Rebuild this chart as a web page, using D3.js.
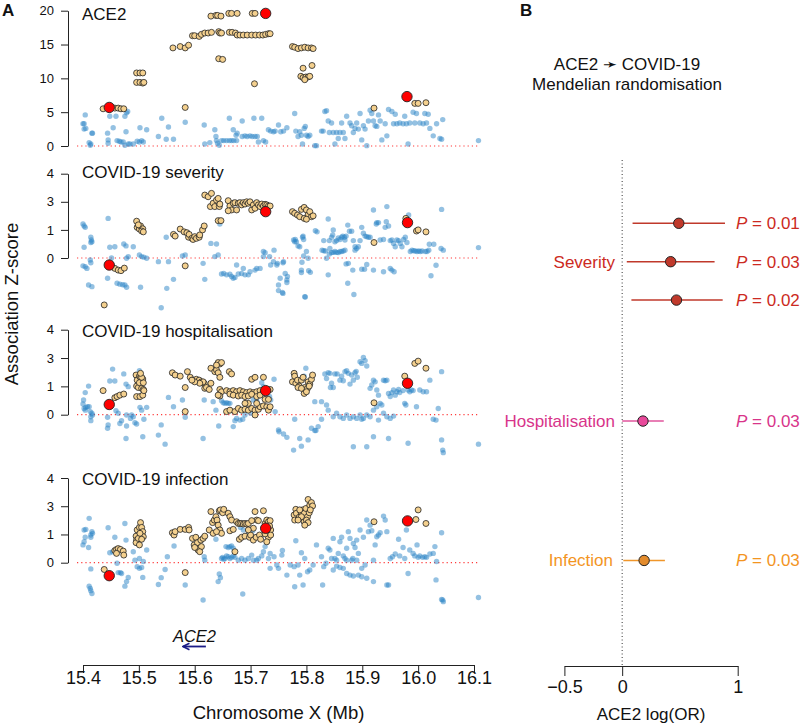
<!DOCTYPE html>
<html><head><meta charset="utf-8">
<script src="https://cdn.jsdelivr.net/npm/d3@7"></script>
<style>
body{margin:0;background:#fff}
svg{display:block}
text{font-family:"Liberation Sans",Arial,Helvetica,sans-serif;fill:#111}
</style>
</head><body>
<svg id="c" width="800" height="726"></svg>
<script>
// ---------------- DATA ----------------
// Panel A: [position (Mb), Z value]; for COVID panels Z is given in axis-step units (ticks labelled 0,1,3,4)
const ace2Ticks = [0,5,10,15,20];
const ace2TickLabels = ["0","5","10","15","20"];
const covidTicks = [0,1,2,3];
const covidTickLabels = ["0","1","3","4"];
const xTicks = [15.4,15.5,15.6,15.7,15.8,15.9,16.0,16.1];

const ace2Blue = [[15.400,3.3],[15.402,3.3],[15.404,4.6],[15.402,2.5],[15.405,2.6],[15.411,0.5],[15.414,0.3],[15.416,1.9],[15.417,1.9],[15.413,0.1],
[15.444,1.9],[15.445,0.9],[15.445,0.4],[15.448,4.4],[15.454,2.7],[15.459,4.4],[15.461,0.8],[15.465,0.7],[15.468,0.6],[15.472,0.6],[15.475,4.4],[15.477,2.1],[15.478,4.9],[15.480,5.1],[15.475,0.1],[15.481,0.3],[15.484,0.3],[15.490,0.3],
[15.497,0.7],[15.501,0.6],[15.502,2.7],[15.505,0.8],[15.508,0.6],[15.514,2.4],[15.535,1.4],[15.541,4.1],[15.549,1.0],[15.553,2.8],[15.562,1.0],[15.583,3.5],[15.617,3.1],[15.618,0.3],[15.627,0.5],[15.636,2.4],[15.638,1.4],[15.639,0.8],[15.641,0.4],[15.644,0.1],
[15.648,0.8],[15.652,0.8],[15.657,0.8],[15.662,0.8],[15.666,0.8],[15.670,0.8],[15.675,0.8],
[15.662,4.1],[15.669,2.4],[15.674,1.6],[15.676,1.9],[15.685,3.7],[15.685,1.4],[15.690,1.5],[15.694,1.4],[15.699,1.5],[15.703,1.4],[15.706,4.1],[15.708,1.4],[15.712,1.4],[15.714,0.6],[15.720,4.1],[15.723,0.8],[15.727,0.6],[15.732,2.4],[15.736,2.2],[15.741,2.1],[15.744,2.2],[15.750,3.1],[15.754,2.1],[15.759,2.2],[15.765,2.7],[15.779,4.8],[15.781,2.2],[15.785,1.4],[15.788,2.1],[15.791,1.6],[15.793,0.3],[15.796,2.6],[15.798,2.9],[15.800,1.6],[15.803,1.4],[15.806,1.6],[15.815,0.05],[15.818,0.05],
[15.827,2.2],[15.830,2.2],[15.833,5.1],[15.836,5.2],[15.839,3.7],[15.841,2.0],[15.845,3.4],[15.848,2.0],[15.851,0.3],[15.854,2.0],[15.857,1.1],[15.860,2.0],[15.863,3.4],[15.866,2.0],[15.869,1.1],[15.872,4.4],[15.878,3.4],[15.881,3.0],[15.884,2.0],[15.887,2.6],[15.890,3.4],[15.893,2.5],[15.896,4.8],[15.899,0.9],[15.902,3.0],[15.905,2.5],[15.908,0.05],[15.911,3.7],[15.914,5.3],[15.917,4.8],[15.920,3.7],[15.923,3.0],[15.926,2.9],[15.929,4.6],[15.932,3.7],[15.935,0.9],[15.941,3.3],[15.944,1.5],[15.947,5.4],[15.953,5.1],[15.956,3.3],[15.959,4.7],[15.962,3.3],[15.967,3.4],[15.973,3.3],[15.976,4.4],[15.979,3.3],[15.982,0.3],[15.985,3.4],[15.991,5.0],[15.994,3.4],[15.997,4.8],[16.003,3.4],[16.009,3.3],[16.012,4.8],[16.015,3.4],[16.018,4.7],[16.021,2.6],[16.027,1.5],[16.033,3.3],[16.039,1.1],[16.042,1.0],[16.044,3.9],[16.108,0.8]];

const ace2Tan = [[15.436,5.5],[15.457,5.6],[15.463,5.6],[15.468,5.5],[15.473,5.5],
[15.496,10.8],[15.502,10.8],[15.507,10.8],[15.496,9.4],[15.502,9.4],[15.507,9.3],[15.509,9.4],
[15.561,14.5],[15.574,14.7],[15.583,14.5],[15.589,14.9],[15.583,5.7],
[15.596,16.3],[15.600,16.3],[15.608,16.2],[15.612,16.5],[15.618,16.7],[15.624,16.7],[15.630,16.8],
[15.629,19.2],[15.638,19.3],[15.641,19.3],[15.647,19.2],
[15.643,16.9],[15.645,16.7],[15.648,16.7],[15.643,12.9],[15.650,12.8],
[15.661,19.6],[15.666,19.6],[15.676,19.6],[15.662,16.8],[15.667,16.8],[15.673,16.7],
[15.676,16.4],[15.681,16.4],[15.687,16.4],[15.694,16.4],[15.702,16.4],[15.709,16.4],[15.716,16.4],[15.722,16.4],
[15.703,19.6],[15.708,19.6],[15.707,9.2],
[15.727,16.5],[15.732,16.6],[15.735,16.6],
[15.775,14.7],[15.779,14.6],[15.785,14.4],[15.791,14.5],[15.797,14.6],[15.803,14.5],[15.809,14.5],[15.812,14.4],
[15.794,11.5],[15.810,11.9],[15.790,10.3],[15.794,10.1],[15.799,10.2],[15.803,10.2],[15.806,10.3],[15.797,9.8],
[15.921,5.6],[15.994,6.3],[16.000,6.3],[16.014,6.4]];
const ace2Lead = [[15.447,5.7],[15.727,19.6],[15.980,7.3]];

const sevBlue = [[15.400,1.21],[15.402,1.14],[15.404,1.09],[15.414,0.74],[15.415,0.64],[15.416,0.58],[15.414,0.55],[15.402,0.38],[15.400,-0.28],[15.404,-0.31],[15.407,-0.37],[15.413,-0.07],[15.414,-0.17],[15.410,-0.96],[15.416,-1.02],
[15.445,1.41],[15.448,0.38],[15.444,-0.72],[15.451,0.0],[15.457,0.40],[15.461,-0.90],[15.466,-0.93],[15.471,-0.95],[15.475,-0.96],[15.478,-1.04],[15.473,0.50],[15.477,0.43],[15.481,0.05],[15.478,-0.01],[15.490,0.40],[15.501,0.11],[15.505,0.05],[15.509,0.03],[15.514,-0.01],[15.503,-1.04],[15.535,-0.13],[15.540,-1.77],[15.549,0.74],[15.550,-1.08],[15.553,-0.13],[15.562,-0.76],[15.578,0.07],[15.583,0.11],[15.615,-0.19],[15.618,-0.76],[15.629,0.52],[15.639,0.50],[15.636,0.05],[15.642,0.11],[15.645,1.21],
[15.648,-0.57],[15.652,-0.55],[15.657,-0.60],[15.663,-0.58],[15.666,-0.66],[15.669,-0.72],[15.672,-0.69],[15.678,-0.57],[15.684,-0.55],[15.690,-0.60],[15.696,-0.60],
[15.675,-0.25],[15.687,-0.37],[15.699,-0.49],[15.708,-0.43],[15.711,-0.37],[15.717,-0.37],[15.723,0.23],[15.726,0.19],[15.723,0.05],[15.734,0.05],[15.736,-0.25],[15.742,0.28],[15.747,-0.25],[15.750,-0.96],[15.750,-1.16],[15.757,-1.23],[15.753,-0.72],[15.759,-0.13],[15.762,-0.55],[15.765,-0.78],[15.777,0.64],[15.779,0.58],[15.785,0.43],[15.788,0.40],[15.791,-0.43],[15.793,0.74],[15.797,-1.38],[15.803,-0.01],[15.800,0.23],
[15.748,-0.19],[15.758,-0.17],[15.766,-0.66],[15.765,-0.87],[15.758,-1.26],[15.798,-1.39],[15.792,-0.15],[15.791,-0.52],[15.795,0.07],[15.804,-0.45],[15.807,-0.51],[15.780,0.66],[15.782,0.58],[15.794,0.78],[15.795,0.66],[15.816,0.97],[15.819,0.93],[15.831,0.62],[15.831,0.26],[15.836,-0.01],[15.839,-0.60],[15.839,1.39],[15.841,0.62],[15.842,0.34],[15.845,0.74],[15.847,0.82],[15.848,1.0],[15.851,0.58],[15.854,0.62],[15.857,0.71],[15.860,0.66],[15.863,0.74],[15.865,0.78],[15.868,0.74],[15.869,0.64],[15.871,0.78],[15.874,1.17],[15.877,0.95],[15.881,0.95],[15.884,0.62],[15.887,0.40],[15.890,0.34],[15.887,0.28],[15.893,0.40],[15.896,0.62],[15.899,1.09],[15.902,0.88],[15.905,0.78],[15.908,0.76],[15.911,0.74],[15.914,0.74],[15.920,1.71],[15.925,1.21],[15.926,1.26],[15.929,1.26],[15.932,0.64],[15.938,0.66],[15.941,1.09],[15.943,1.29],[15.944,1.83],[15.947,1.14],[15.950,0.62],[15.953,0.64],[15.956,0.52],[15.959,0.40],[15.962,0.64],[15.965,0.62],[15.968,0.52],[15.971,0.40],[15.974,0.66],[15.977,0.74],[15.980,0.55],[15.983,1.53],[15.986,0.23],[15.989,0.28],[15.992,0.26],[15.995,0.25],[15.998,0.23],[16.001,0.25],[16.004,0.23],[16.007,0.25],[16.013,0.23],[16.016,0.23],[16.019,0.28],[16.020,0.49],[16.028,0.49],[16.032,-0.26],[16.023,-0.63],[16.042,1.73],[16.041,0.34],[16.045,0.28],[16.108,0.37],
[15.841,0.14],[15.845,0.19],[15.848,0.20],[15.851,0.23],[15.854,0.20],[15.857,0.19],[15.860,0.23],[15.863,0.23],[15.866,0.25],[15.869,0.28],[15.871,-0.21],[15.875,-0.19],[15.883,-0.43],[15.874,-0.90],[15.885,-1.30],[15.899,-0.40],[15.904,-0.40],[15.908,-0.23],[15.920,-0.43],[15.938,-0.49],[15.950,-0.37],[15.953,-0.43],[15.957,-0.49],[15.828,0.28],[15.834,0.25],[15.741,-0.13]];

const sevTan = [[15.438,-1.67],
[15.457,-0.37],[15.463,-0.43],[15.468,-0.45],[15.474,-0.36],
[15.496,1.31],[15.497,1.09],[15.501,1.03],[15.503,1.14],[15.507,1.04],[15.505,0.96],[15.508,0.93],[15.499,1.18],
[15.562,0.84],[15.565,0.78],[15.574,1.03],[15.581,0.93],[15.586,0.90],[15.589,0.74],[15.590,0.84],[15.595,0.70],[15.597,0.66],[15.600,0.76],[15.603,0.70],[15.608,0.74],[15.609,0.82],[15.614,1.0],[15.617,1.14],
[15.583,-0.28],
[15.618,2.24],[15.624,2.18],[15.630,2.30],[15.628,1.83],[15.633,1.95],[15.636,1.83],[15.639,2.06],[15.642,2.12],[15.644,1.83],[15.645,1.92],[15.642,1.33],[15.647,1.33],
[15.660,2.04],[15.663,1.85],[15.666,1.71],[15.669,1.95],[15.672,1.97],[15.675,1.71],[15.678,1.95],[15.681,1.97],[15.684,1.89],[15.687,1.97],[15.690,1.92],[15.693,2.0],[15.696,1.95],[15.699,2.0],[15.702,1.71],[15.705,1.89],[15.708,1.77],[15.711,1.97],[15.714,1.89],[15.717,1.83],[15.720,1.92],[15.723,1.85],[15.726,1.91],[15.729,1.89],[15.732,1.85],[15.735,1.85],[15.660,1.68],
[15.775,1.65],[15.779,1.59],[15.784,1.53],[15.788,1.47],[15.791,1.73],[15.796,1.80],[15.800,1.71],[15.803,1.53],[15.806,1.65],[15.809,1.47],[15.812,1.50],[15.796,1.41],[15.800,1.38],
[15.921,0.55],[15.978,1.41],[15.997,0.96],[16.000,1.0],[16.014,0.93]];
const sevLead = [[15.447,-0.25],[15.727,1.65],[15.981,1.26]];

const hospBlue = [[15.400,0.38],[15.402,0.22],[15.404,0.16],[15.405,0.26],[15.408,0.28],[15.413,0.11],[15.414,-0.07],[15.411,0.28],[15.416,0.05],[15.417,-0.01],[15.404,0.78],[15.410,1.01],[15.401,0.52],[15.414,-0.21],
[15.444,-0.48],[15.445,-0.36],[15.444,-0.09],[15.453,1.61],[15.448,1.19],[15.457,1.19],[15.459,0.14],[15.463,0.05],[15.466,-0.31],[15.469,-0.21],[15.473,1.44],[15.477,1.08],[15.478,-0.01],[15.481,0.99],[15.478,-0.40],[15.477,-0.84],[15.485,-0.13],[15.487,-0.01],[15.490,-0.07],[15.493,-0.28],[15.496,-0.33],[15.501,1.55],[15.502,0.26],[15.505,0.16],[15.507,-0.78],[15.509,-0.16],[15.514,0.26],
[15.535,-0.72],[15.540,-0.36],[15.547,-1.04],[15.553,0.61],[15.562,0.28],[15.578,0.52],[15.583,-0.09],[15.617,0.52],[15.615,-0.84],[15.633,0.46],[15.638,0.16],[15.643,-0.40],[15.648,0.49],[15.651,0.42],[15.654,0.40],[15.657,0.42],[15.660,0.40],[15.663,0.40],[15.669,-0.42],[15.672,-0.21],[15.675,-0.13],[15.681,-0.19],[15.686,-0.16],[15.690,-0.01],[15.694,0.40],[15.700,0.05],[15.705,0.52],[15.711,0.49],[15.720,1.13],[15.723,0.99],[15.734,0.64],[15.736,0.52],[15.742,1.25],[15.744,0.11],[15.750,-0.54],[15.751,-0.60],[15.759,-0.68],[15.765,-0.80],[15.779,-0.16],[15.777,-1.25],[15.788,-0.84],[15.791,-1.11],[15.796,1.36],[15.799,1.64],[15.800,0.87],[15.803,-0.89],[15.809,-0.48],[15.815,0.46],[15.817,-0.56],[15.821,-0.42],
[15.827,-0.16],[15.833,1.44],[15.836,1.28],[15.839,1.48],[15.842,1.46],[15.843,0.96],[15.845,1.11],[15.848,0.96],[15.851,1.44],[15.855,1.44],[15.860,1.22],[15.863,1.36],[15.866,1.20],[15.869,1.52],[15.872,1.55],[15.875,1.46],[15.878,1.08],[15.881,1.40],[15.884,1.22],[15.887,1.48],[15.889,1.53],[15.891,1.32],[15.896,1.87],[15.899,1.81],[15.902,2.02],[15.905,1.91],[15.908,1.72],[15.914,0.93],[15.917,1.05],[15.920,1.22],[15.923,1.16],[15.926,0.87],[15.929,0.69],[15.932,0.40],[15.935,0.34],[15.938,1.22],[15.941,1.20],[15.944,1.22],[15.947,0.75],[15.950,0.64],[15.953,0.78],[15.956,0.87],[15.959,0.69],[15.962,0.81],[15.965,0.89],[15.967,0.78],[15.973,0.85],[15.976,0.40],[15.978,0.34],[15.982,0.87],[15.985,0.81],[15.988,0.87],[15.991,0.85],[15.997,0.28],[16.003,0.87],[16.009,0.81],[16.015,0.81],[16.021,1.22],[16.027,-0.16],[16.032,-0.19],[16.036,0.22],[16.042,1.52],[16.042,-0.89],[16.044,-1.25],[16.045,-1.34],[16.108,-1.04],
[15.836,0.34],[15.848,-0.07],[15.854,0.05],[15.860,-0.07],[15.866,-0.13],[15.872,-0.01],[15.878,-0.13],[15.884,-0.07],[15.890,-0.13],[15.896,-0.01],[15.899,-0.16],[15.902,-0.13],[15.908,-0.01],[15.914,-0.07],[15.920,0.16],[15.926,0.28],[15.929,-0.19],[15.938,0.05],[15.944,-0.07],[15.950,-0.13],[15.956,-0.05],[15.947,-0.84],[15.908,-1.13],[15.884,-1.13],[15.920,-0.78],[15.982,-1.01],[15.827,0.46],[15.839,0.16],[15.815,-0.56]];

const hospTan = [[15.436,0.85],[15.457,0.60],[15.461,0.64],[15.466,0.69],[15.473,0.73],
[15.495,1.40],[15.497,1.22],[15.501,1.36],[15.503,1.32],[15.507,1.26],[15.496,1.01],[15.499,0.96],[15.505,0.93],[15.508,0.89],[15.496,0.64],[15.502,0.64],[15.507,0.69],[15.509,0.85],[15.501,1.13],[15.508,1.13],[15.505,1.32],[15.503,1.46],
[15.560,1.48],[15.565,1.40],[15.574,1.36],[15.583,0.96],[15.587,1.52],[15.592,1.32],[15.597,1.22],[15.603,1.25],[15.608,1.22],[15.612,1.16],[15.617,1.11],[15.618,0.93],[15.621,0.96],[15.626,0.89],[15.629,1.11],[15.615,1.16],[15.609,1.11],[15.600,1.16],[15.595,1.22],[15.583,0.11],
[15.629,1.64],[15.636,1.52],[15.639,1.58],[15.642,1.48],[15.645,1.79],[15.642,1.84],[15.648,1.84],[15.639,1.75],[15.645,1.32],[15.662,1.52],[15.666,1.44],[15.645,0.89],[15.648,0.81],[15.645,0.66],[15.642,0.69],
[15.657,0.85],[15.663,0.81],[15.669,0.85],[15.675,0.81],[15.681,0.85],[15.687,0.81],[15.693,0.78],[15.699,0.81],[15.705,0.78],[15.711,0.81],[15.717,0.85],[15.723,0.81],[15.735,0.89],
[15.663,0.73],[15.669,0.69],[15.678,0.66],[15.684,0.69],[15.690,0.64],[15.696,0.66],[15.702,0.72],[15.711,0.64],[15.717,0.69],
[15.657,0.11],[15.663,0.16],[15.672,0.11],[15.678,0.22],[15.684,0.16],[15.690,0.19],[15.696,0.16],[15.702,0.22],[15.708,0.16],[15.714,0.19],[15.717,0.28],[15.723,0.31],[15.729,0.28],[15.732,0.16],[15.735,0.28],[15.726,0.54],[15.732,0.54],[15.708,-0.01],[15.702,1.25],[15.708,1.32],[15.723,1.32],[15.696,0.40],[15.690,0.40],[15.711,0.40],
[15.775,1.16],[15.778,1.46],[15.779,1.36],[15.781,1.11],[15.784,1.22],[15.787,1.01],[15.791,1.22],[15.794,1.32],[15.797,0.96],[15.799,0.87],[15.802,0.93],[15.803,1.16],[15.806,1.08],[15.809,1.25],[15.811,1.40],[15.796,0.75],[15.800,0.81],[15.805,1.01],[15.785,0.96],[15.791,0.93],
[15.921,0.42],[15.976,1.36],[15.994,1.81],[16.000,1.89],[16.014,1.64]];
const hospLead = [[15.447,0.36],[15.727,0.85],[15.981,1.11]];

const infBlue = [[15.400,0.63],[15.402,0.74],[15.404,0.90],[15.402,1.16],[15.405,1.18],[15.414,0.98],[15.416,1.10],[15.417,1.04],[15.414,0.90],[15.411,1.57],[15.410,0.54],[15.414,-0.22],[15.411,-0.83],[15.413,-0.91],[15.414,-0.99],[15.416,-1.09],
[15.445,1.24],[15.448,0.35],[15.453,0.39],[15.457,0.90],[15.459,0.35],[15.461,-0.02],[15.463,-0.35],[15.467,-0.35],[15.469,-0.38],[15.475,1.39],[15.477,0.80],[15.478,-0.67],[15.481,-0.52],[15.475,-0.83],[15.490,0.39],[15.493,0.09],[15.497,-0.14],[15.501,-0.20],[15.505,-0.17],[15.507,-0.52],[15.508,0.04],[15.514,0.45],[15.501,0.15],
[15.535,-0.77],[15.540,-0.53],[15.547,-0.24],[15.551,0.21],[15.563,0.59],[15.578,1.18],[15.583,-0.79],
[15.615,-1.32],[15.617,0.21],[15.618,0.09],[15.638,0.83],[15.642,-0.67],[15.644,-0.40],[15.646,-0.53],[15.648,0.15],[15.650,0.19],[15.652,0.12],[15.654,0.15],[15.657,0.24],[15.660,0.21],[15.663,0.15],[15.666,0.19],[15.669,0.24],[15.672,0.19],[15.656,0.57],[15.660,0.54],[15.663,0.57],[15.666,0.59],[15.669,0.51],[15.678,0.09],[15.684,0.15],[15.690,0.09],[15.696,0.15],[15.702,0.27],[15.705,0.09],[15.711,0.09],[15.714,0.15],[15.720,0.24],[15.723,0.39],[15.726,0.57],[15.732,0.15],[15.735,0.33],[15.686,-1.11],[15.682,1.25],[15.687,1.16],[15.696,1.02],[15.704,1.13],
[15.735,-0.20],[15.742,0.21],[15.747,-0.08],[15.750,-0.20],[15.756,0.27],[15.757,0.43],[15.765,-0.44],[15.771,-0.08],[15.778,-0.14],[15.779,-0.85],[15.781,0.78],[15.785,-0.08],[15.788,-0.44],[15.791,0.35],[15.794,-0.79],[15.797,0.15],[15.802,-0.32],[15.806,-0.26],[15.812,-0.08],[15.818,0.63],[15.827,0.21],[15.829,-0.79],[15.831,-0.14],[15.835,-0.02],[15.839,0.51],[15.842,0.45],[15.845,0.15],[15.848,0.86],[15.851,0.15],[15.854,0.09],[15.857,0.33],[15.860,0.74],[15.863,0.90],[15.866,0.24],[15.869,0.15],[15.872,0.51],[15.875,1.10],[15.878,0.86],[15.883,0.15],[15.884,0.68],[15.887,0.54],[15.890,0.80],[15.893,0.33],[15.896,1.16],[15.899,-0.20],[15.902,0.90],[15.905,-0.08],[15.908,1.51],[15.911,1.10],[15.914,1.33],[15.917,1.13],[15.920,0.09],[15.923,0.63],[15.926,0.92],[15.929,0.98],[15.932,1.06],[15.938,1.65],[15.941,1.51],[15.944,1.10],[15.947,-0.79],[15.950,0.15],[15.954,0.21],[15.959,0.31],[15.965,0.83],[15.967,0.24],[15.973,0.54],[15.976,0.15],[15.979,1.16],[15.982,-0.38],[15.985,0.45],[15.991,0.33],[15.994,0.24],[15.998,0.63],[16.000,0.19],[16.003,0.24],[16.008,0.19],[16.012,0.21],[16.015,0.19],[16.021,0.31],[16.027,0.33],[16.030,0.57],[16.032,-0.61],[16.033,0.04],[16.042,1.06],[16.042,-1.30],[16.045,-1.38],[16.044,-1.32],[16.108,-1.23],
[15.848,-0.26],[15.854,-0.12],[15.860,-0.17],[15.866,-0.20],[15.872,-0.38],[15.878,-0.44],[15.884,-0.47],[15.893,-0.44],[15.899,-0.50],[15.908,-0.55],[15.920,-0.67],[15.944,-0.79],[15.872,0.09],[15.881,0.09],[15.890,0.09]];

const infTan = [[15.438,-0.24],[15.583,-0.35],
[15.457,0.43],[15.460,0.47],[15.463,0.50],[15.467,0.47],[15.472,0.41],[15.473,0.27],[15.460,0.33],
[15.495,0.94],[15.496,0.80],[15.497,1.16],[15.501,1.25],[15.503,1.42],[15.505,1.25],[15.507,1.10],[15.508,0.92],[15.495,0.71],[15.499,0.86],[15.502,1.04],[15.505,0.83],[15.501,0.63],
[15.560,1.06],[15.563,0.98],[15.565,1.10],[15.574,1.18],[15.583,1.18],[15.589,1.25],[15.590,1.16],
[15.596,0.86],[15.599,0.63],[15.602,0.90],[15.605,0.71],[15.606,0.45],[15.608,0.51],[15.611,0.80],[15.612,0.57],[15.615,0.86],[15.618,0.94],[15.600,0.54],[15.609,0.39],
[15.626,1.16],[15.629,1.81],[15.632,1.42],[15.635,1.51],[15.638,1.63],[15.640,1.51],[15.642,1.33],[15.644,1.84],[15.646,1.87],[15.650,1.77],[15.652,1.89],[15.645,1.16],[15.648,1.04],[15.633,1.04],[15.639,1.10],
[15.660,1.75],[15.663,1.63],[15.666,1.51],[15.663,1.13],[15.669,1.18],[15.672,0.39],[15.675,1.45],[15.678,1.39],[15.681,1.39],[15.684,1.39],[15.687,1.37],[15.690,1.39],[15.693,1.37],[15.696,1.39],[15.680,0.83],[15.684,0.90],[15.690,0.94],[15.698,0.90],[15.700,0.98],[15.705,0.80],[15.708,1.81],[15.710,0.90],[15.711,1.51],[15.714,1.49],[15.716,0.98],[15.718,0.83],[15.723,1.84],[15.726,1.39],[15.729,1.51],[15.732,1.45],[15.735,1.49],[15.732,0.90],[15.729,0.74],[15.726,1.02],[15.736,1.16],[15.736,0.98],[15.734,1.30],[15.702,1.49],[15.705,1.22],[15.696,1.16],
[15.778,1.69],[15.781,1.89],[15.779,1.51],[15.782,1.75],[15.787,1.61],[15.790,1.81],[15.793,1.87],[15.796,1.75],[15.799,1.92],[15.802,1.63],[15.803,2.24],[15.806,2.04],[15.809,2.13],[15.811,2.01],[15.796,1.45],[15.800,1.51],[15.803,1.42],[15.805,1.77],[15.791,1.63],[15.797,1.33],[15.807,1.87],[15.788,1.87],[15.785,1.51],
[15.921,1.45],[15.996,1.53],[16.000,1.87],[16.014,1.39]];
const infLead = [[15.447,-0.46],[15.727,1.22],[15.981,1.48]];

const geneName = "ACE2";
const geneStart = 15.579, geneEnd = 15.620;

// Panel B: Mendelian randomisation
const mrOutcome = ["Severity","Severity","Severity","Hospitalisation","Infection"];
const mrEstimate = [0.49,0.42,0.47,0.18,0.19];
const mrLower = [0.09,0.04,0.08,0.00,0.01];
const mrUpper = [0.89,0.80,0.87,0.36,0.37];
const mrP = ["0.01","0.03","0.02","0.03","0.03"];
const mrTicks = [-0.5,0,1];
const mrTickLabels = ["\u22120.5","0","1"];

// ---------------- LAYOUT / STYLE ----------------
const svg = d3.select("#c");
const x = d3.scaleLinear().domain([15.4,16.1]).range([83,474]);
const axisX = 68;

const panels = [
  {title:"ACE2", titleY:20, blue:ace2Blue, tan:ace2Tan, lead:ace2Lead, domain:[0,20], range:[146,10.7], ticks:ace2Ticks, labels:ace2TickLabels},
  {title:"COVID-19 severity", titleY:178, blue:sevBlue, tan:sevTan, lead:sevLead, domain:[0,3], range:[258,173.7], ticks:covidTicks, labels:covidTickLabels},
  {title:"COVID-19 hospitalisation", titleY:337, blue:hospBlue, tan:hospTan, lead:hospLead, domain:[0,3], range:[414.7,329.7], ticks:covidTicks, labels:covidTickLabels},
  {title:"COVID-19 infection", titleY:485, blue:infBlue, tan:infTan, lead:infLead, domain:[0,3], range:[562.7,478], ticks:covidTicks, labels:covidTickLabels}
];

panels.forEach(p => {
  const y = d3.scaleLinear().domain(p.domain).range(p.range);
  const g = svg.append("g");
  const ax = g.append("g").attr("transform",`translate(${axisX},0)`)
    .call(d3.axisLeft(y).tickValues(p.ticks).tickFormat((d,i)=>p.labels[i]).tickSizeInner(7).tickSizeOuter(0).tickPadding(7));
  ax.select(".domain").attr("stroke","#222");
  ax.selectAll(".tick line").attr("stroke","#222");
  ax.selectAll("text").attr("font-size",13).attr("fill","#111").style("font-family","'Liberation Sans',Arial,sans-serif");
  g.append("line").attr("x1",77).attr("x2",480).attr("y1",y(0)).attr("y2",y(0))
    .attr("stroke","#ff3b3b").attr("stroke-width",1.2).attr("stroke-dasharray","1.2,3");
  g.append("text").attr("x",82).attr("y",p.titleY).attr("font-size",17).text(p.title);
  g.append("g").selectAll("circle").data(p.blue).join("circle")
    .attr("cx",d=>x(d[0])).attr("cy",d=>y(d[1])).attr("r",2.7)
    .attr("fill","#2a84c6").attr("fill-opacity",0.5);
  g.append("g").selectAll("circle").data(p.tan).join("circle")
    .attr("cx",d=>x(d[0])).attr("cy",d=>y(d[1])).attr("r",3)
    .attr("fill","#f4d08e").attr("stroke","#222").attr("stroke-width",0.8);
  g.append("g").selectAll("circle").data(p.lead).join("circle")
    .attr("cx",d=>x(d[0])).attr("cy",d=>y(d[1])).attr("r",5.2)
    .attr("fill","#ff0000").attr("stroke","#222").attr("stroke-width",0.9);
});

// x axis panel A
const xa = svg.append("g").attr("transform","translate(0,665)")
  .call(d3.axisBottom(x).tickValues(xTicks).tickFormat(d3.format(".1f")).tickSizeInner(8).tickSizeOuter(0));
xa.select(".domain").attr("stroke","#222");
xa.selectAll(".tick line").attr("stroke","#222");
xa.selectAll("text").attr("y",19).attr("dy",null).attr("font-size",18).attr("fill","#111")
  .style("font-family","'Liberation Sans',Arial,sans-serif");
svg.append("text").attr("x",(x.range()[0]+x.range()[1])/2).attr("y",719).attr("text-anchor","middle")
  .attr("font-size",18.5).text("Chromosome X (Mb)");
svg.append("text").attr("transform","translate(18,304) rotate(-90)").attr("text-anchor","middle")
  .attr("font-size",18.5).text("Association Z-score");

// gene annotation (arrow points left: gene on minus strand)
svg.append("defs").append("marker").attr("id","ah").attr("viewBox","0 0 10 10").attr("refX",9).attr("refY",5)
  .attr("markerWidth",4.5).attr("markerHeight",4.5).attr("orient","auto-start-reverse")
  .append("path").attr("d","M1,1 L9,5 L1,9").attr("fill","none").attr("stroke","#1b1b87").attr("stroke-width",2);
svg.append("line").attr("x1",x(geneStart)).attr("x2",x(geneEnd)).attr("y1",646.5).attr("y2",646.5)
  .attr("stroke","#1b1b87").attr("stroke-width",1.8).attr("marker-start","url(#ah)");
svg.append("text").attr("x",x((geneStart+geneEnd)/2)).attr("y",641.7).attr("text-anchor","middle")
  .attr("font-size",16.5).attr("font-style","italic").text(geneName);

// panel letters
svg.append("text").attr("x",2).attr("y",16).attr("font-size",17).attr("font-weight","bold").text("A");
svg.append("text").attr("x",520).attr("y",16).attr("font-size",17).attr("font-weight","bold").text("B");

// ---------------- Panel B ----------------
const fx = d3.scaleLinear().domain([-0.5,1]).range([564.4,737.7]);
const rowSlot = [0,1,2,5.15,8.78];
const fy = d3.scaleLinear().domain([0,1]).range([223.3,261.7]);
const textColor = {Severity:"#cc2a22", Hospitalisation:"#d8348a", Infection:"#f3951f"};
const lineColor = {Severity:"#c0392b", Hospitalisation:"#e0559d", Infection:"#f0962a"};
const ptFill = {Severity:"#c0392b", Hospitalisation:"#e8489a", Infection:"#e38b2c"};

svg.append("text").attr("x",627).attr("y",70).attr("text-anchor","middle").attr("font-size",17).text("ACE2 \u279B COVID-19");
svg.append("text").attr("x",627).attr("y",90).attr("text-anchor","middle").attr("font-size",17).text("Mendelian randomisation");

svg.append("line").attr("x1",fx(0)).attr("x2",fx(0)).attr("y1",160).attr("y2",666)
  .attr("stroke","#333").attr("stroke-width",1).attr("stroke-dasharray","1,2.5");

const rows = mrOutcome.map((o,i)=>({o, est:mrEstimate[i], lo:mrLower[i], hi:mrUpper[i], p:mrP[i], slot:rowSlot[i]}));
const fg = svg.append("g");
fg.selectAll("line.ci").data(rows).join("line").attr("class","ci")
  .attr("x1",d=>fx(d.lo)).attr("x2",d=>fx(d.hi)).attr("y1",d=>fy(d.slot)).attr("y2",d=>fy(d.slot))
  .attr("stroke",d=>lineColor[d.o]).attr("stroke-width",1.5);
fg.selectAll("circle").data(rows).join("circle")
  .attr("cx",d=>fx(d.est)).attr("cy",d=>fy(d.slot)).attr("r",5.2)
  .attr("fill",d=>ptFill[d.o]).attr("stroke","#222").attr("stroke-width",1);
const pt = fg.selectAll("text.p").data(rows).join("text").attr("class","p")
  .attr("x",736).attr("y",d=>fy(d.slot)+6).attr("font-size",17).style("fill",d=>textColor[d.o]);
pt.append("tspan").attr("font-style","italic").text("P");
pt.append("tspan").text(d=>" = "+d.p);

// outcome labels (one per outcome, at its middle row)
const groups = d3.groups(rows, d=>d.o).map(([o,rs])=>({o, slot:d3.mean(rs,r=>r.slot)}));
fg.selectAll("text.lab").data(groups).join("text").attr("class","lab")
  .attr("x",d=> d.o==="Infection"?613:615).attr("y",d=>fy(d.slot)+6).attr("text-anchor","end")
  .attr("font-size",17).style("fill",d=>textColor[d.o]).text(d=>d.o);

const fa = svg.append("g").attr("transform","translate(0,666)")
  .call(d3.axisBottom(fx).tickValues(mrTicks).tickFormat((d,i)=>mrTickLabels[i]).tickSizeInner(10).tickSizeOuter(0));
fa.select(".domain").attr("stroke","#222");
fa.selectAll(".tick line").attr("stroke","#222");
fa.selectAll("text").attr("y",27).attr("dy",null).attr("font-size",18).attr("fill","#111")
  .style("font-family","'Liberation Sans',Arial,sans-serif");
svg.append("text").attr("x",(fx.range()[0]+fx.range()[1])/2).attr("y",720).attr("text-anchor","middle")
  .attr("font-size",17).text("ACE2 log(OR)");
</script>
</body></html>
